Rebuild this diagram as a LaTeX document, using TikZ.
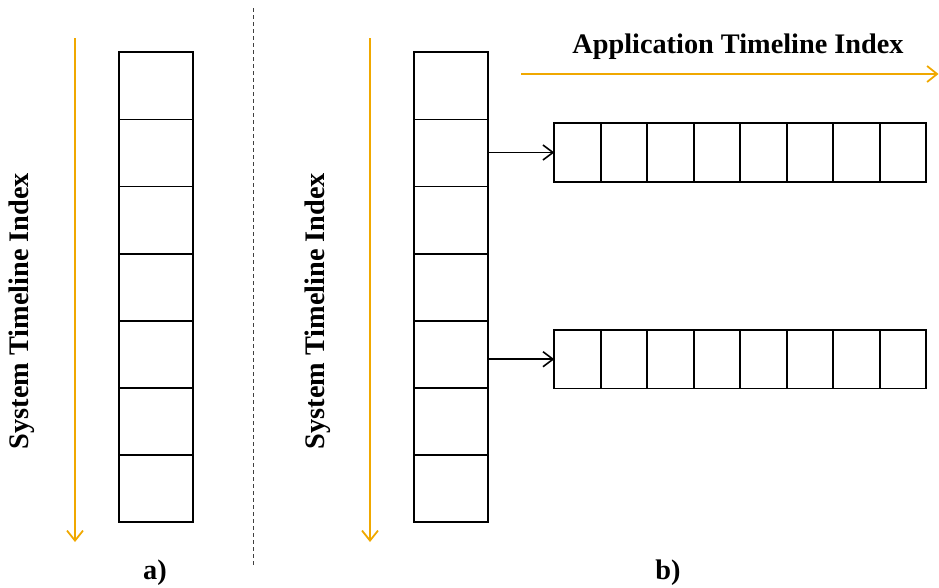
\documentclass[tikz,border=0pt]{standalone}
\usepackage{fontspec}
\setmainfont{Liberation Serif}
\usetikzlibrary{arrows.meta, math, positioning}
\definecolor{myorange}{RGB}{240,168,0}

\tikzset{
  cell/.style={draw, line width=1.8pt, minimum width=74pt, minimum height=67.14pt, inner sep=0pt, outer sep=0pt},
  slot/.style={draw, line width=1.8pt, minimum width=46.5pt, minimum height=58.4pt, inner sep=0pt, outer sep=0pt},
  axis/.style={color=myorange, line width=1.8pt, -{Straight Barb[length=10pt,width=16pt,line width=1.8pt]}},
  ptr/.style={line width=1.6pt, -{Straight Barb[length=10pt,width=15pt,line width=1.6pt]}},
  lbl/.style={font=\fontsize{28.3}{32}\selectfont\bfseries, inner sep=0pt}
}

\begin{document}
\begin{tikzpicture}[x=1pt,y=-1pt]
\tikzmath{
\H=67.14;
\W=46.5;
}
\useasboundingbox (0,0) rectangle (939,587);

% a) single column
\foreach \i in {1,...,7}{
\node[cell] (a\i) at (156,52.3+\H*\i-\H/2) {};
}
\coordinate (sa0) at (75,38);
\coordinate (sa1) at (75,542);
\draw[axis] (sa0) -- (sa1);
\node[lbl, rotate=90] (sysa) at (22,311) {System Timeline Index};
\node[lbl] (capa) at (155,573) {a)};

% separator
\coordinate (sep0) at (253.3,8);
\coordinate (sep1) at (253.3,567);
\draw[dash pattern=on 4pt off 3pt, line width=0.8pt, color=black!75] (sep0) -- (sep1);

% b) column with application rows
\foreach \i in {1,...,7}{
\node[cell] (b\i) at (451,52.3+\H*\i-\H/2) {};
}
\coordinate (sb0) at (370,38);
\coordinate (sb1) at (370,542);
\draw[axis] (sb0) -- (sb1);
\node[lbl, rotate=90] (sysb) at (318,311) {System Timeline Index};
\node[lbl] (capb) at (668,573) {b)};

\foreach \j in {1,...,8}{
\node[slot] (p\j) at (554.3+\W*\j-\W/2,152.5) {};
\node[slot] (q\j) at (554.3+\W*\j-\W/2,359.2) {};
}
\draw[ptr] (b2.east |- p1.west) -- (p1.west);
\draw[ptr] (b5.east |- q1.west) -- (q1.west);

\coordinate (ap0) at (521,74);
\coordinate (ap1) at (938.5,74);
\draw[axis] (ap0) -- (ap1);
\node[lbl] (app) at (738,47) {Application Timeline Index};

\end{tikzpicture}
\end{document}
